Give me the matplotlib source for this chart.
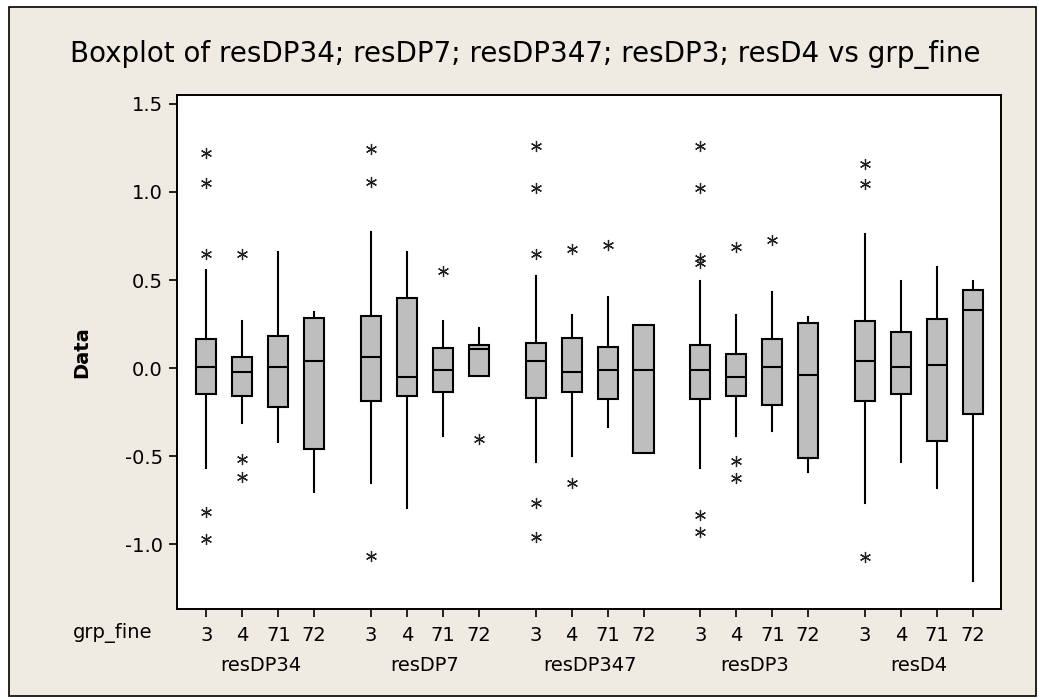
"""
Minitab-style boxplot of five residual series split by grp_fine.
"""

import matplotlib
matplotlib.use("Agg")
import matplotlib.pyplot as plt
from matplotlib.patches import Rectangle
from matplotlib.transforms import blended_transform_factory

# ── Data ──────────────────────────────────────────────────────────────────────

VARIABLES = ["resDP34", "resDP7", "resDP347", "resDP3", "resD4"]
LEVELS    = ["3", "4", "71", "72"]

# one entry per box: variable-major, level-minor
Q1 = [-0.148, -0.157, -0.220, -0.459,
      -0.189, -0.157, -0.138, -0.044,
      -0.169, -0.138, -0.178, -0.485,
      -0.178, -0.157, -0.209, -0.510,
      -0.189, -0.148, -0.415, -0.260]
MEDIAN = [0.007, -0.024, 0.007, 0.040,
          0.061, -0.053, -0.011, 0.106,
          0.040, -0.024, -0.011, -0.011,
          -0.011, -0.053, 0.007, -0.041,
          0.040, 0.007, 0.019, 0.328]
Q3 = [0.163, 0.061, 0.184, 0.286,
      0.295, 0.399, 0.112, 0.131,
      0.142, 0.172, 0.121, 0.243,
      0.131, 0.080, 0.163, 0.256,
      0.267, 0.203, 0.277, 0.441]
WHISK_LO = [-0.570, -0.314, -0.419, -0.706,
            -0.655, -0.797, -0.386, -0.044,
            -0.532, -0.500, -0.334, -0.485,
            -0.570, -0.386, -0.358, -0.593,
            -0.769, -0.532, -0.684, -1.210]
WHISK_HI = [0.557, 0.269, 0.661, 0.320,
            0.771, 0.661, 0.269, 0.226,
            0.524, 0.301, 0.402, 0.243,
            0.494, 0.301, 0.434, 0.288,
            0.761, 0.494, 0.576, 0.494]
OUTLIERS = [[1.223, 1.049, 0.646, -0.820, -0.973], [0.646, -0.517, -0.618], [], [],
            [1.243, 1.059, -1.066], [], [0.551], [-0.405],
            [1.263, 1.024, 0.646, -0.765, -0.962], [0.676, -0.652], [0.699], [],
            [1.263, 1.024, 0.623, 0.595, -0.835, -0.934], [0.689, -0.527, -0.623], [0.727], [],
            [1.159, 1.045, -1.076], [], [], []]

YTICKS = [-1.0, -0.5, 0.0, 0.5, 1.0, 1.5]

# ── Style ─────────────────────────────────────────────────────────────────────

BG_COLOUR  = "#efebe3"
BOX_COLOUR = "#bebebe"
GROUP_STEP = 4.58
LW         = 1.5

plt.rcParams.update({
    "font.family": "DejaVu Sans",
    "font.size": 14,
})

# ── Figure ────────────────────────────────────────────────────────────────────

fig = plt.figure(figsize=(10.39, 6.98), dpi=100, facecolor="white")

# beige panel with thin outer border (behind the axes)
fig.patches.append(Rectangle((9 / 1039, 2 / 698), 1027 / 1039, 689 / 698,
                             transform=fig.transFigure, facecolor=BG_COLOUR,
                             edgecolor="black", linewidth=1.2, zorder=-10))

ax = fig.add_axes([0.1701, 0.1275, 0.7929, 0.7364])
ax.set_zorder(1)
ax.set_facecolor("white")

positions, stats = [], []
for g, var in enumerate(VARIABLES):
    for k, lev in enumerate(LEVELS):
        i = g * len(LEVELS) + k
        positions.append(g * GROUP_STEP + k)
        stats.append({
            "whislo": WHISK_LO[i], "q1": Q1[i], "med": MEDIAN[i],
            "q3": Q3[i], "whishi": WHISK_HI[i], "fliers": OUTLIERS[i],
        })

ax.bxp(stats, positions=positions, widths=0.56, patch_artist=True,
       showcaps=False, manage_ticks=False,
       boxprops=dict(facecolor=BOX_COLOUR, edgecolor="black", linewidth=LW),
       medianprops=dict(color="black", linewidth=LW),
       whiskerprops=dict(color="black", linewidth=LW),
       flierprops=dict(marker=(6, 2, 0), markersize=8, markeredgecolor="#222222",
                       markeredgewidth=0.9, linestyle="none"))

ax.set_xlim(-0.825, 22.09)
ax.set_ylim(-1.369, 1.551)

ax.set_yticks(YTICKS)
ax.set_yticklabels([f"{v:.1f}" for v in YTICKS])
ax.set_xticks(positions)
ax.set_xticklabels(LEVELS * len(VARIABLES))
ax.tick_params(direction="out", length=6, width=1.2, colors="black", pad=4)
ax.tick_params(axis="x", pad=6)

for sp in ax.spines.values():
    sp.set_linewidth(1.4)
    sp.set_color("black")

ax.set_ylabel("Data", fontweight="bold", fontsize=14, labelpad=24)

# group labels under the tick labels
trans = blended_transform_factory(ax.transData, ax.transAxes)
for g, var in enumerate(VARIABLES):
    ax.text(g * GROUP_STEP + 1.5, -0.109, var, transform=trans,
            ha="center", va="center", fontsize=14)

ax.text(-0.030, -0.047, "grp_fine", transform=ax.transAxes,
        ha="right", va="center", fontsize=14)

fig.text(0.506, 0.922,
         "Boxplot of resDP34; resDP7; resDP347; resDP3; resD4 vs grp_fine",
         ha="center", va="center", fontsize=20)

fig.savefig("out.png", dpi=100, facecolor=fig.get_facecolor())
